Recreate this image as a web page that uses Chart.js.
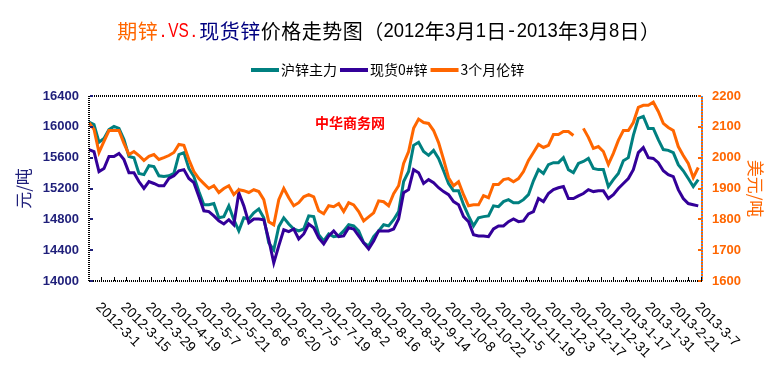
<!DOCTYPE html>
<html>
<head>
<meta charset="utf-8">
<script src="https://cdn.jsdelivr.net/npm/chart.js@4.4.1/dist/chart.umd.min.js"></script>
<style>
  html, body { margin: 0; padding: 0; background: #fff; }
  canvas { display: block; }
</style>
</head>
<body>
<canvas id="zincChart" width="779" height="371"></canvas>
<script>
// ===== 期锌 vs 现货锌 price trend, 2012-3-1 .. 2013-3-8 =====
const dateLabels = ["2012-3-1","2012-3-15","2012-3-29","2012-4-19","2012-5-7","2012-5-21","2012-6-6","2012-6-20",
  "2012-7-5","2012-7-19","2012-8-2","2012-8-16","2012-8-31","2012-9-14","2012-10-8","2012-10-22","2012-11-5",
  "2012-11-19","2012-12-3","2012-12-17","2012-12-31","2013-1-17","2013-1-31","2013-2-21","2013-3-7"];
const DAYS_PER_LABEL = 10;   // a date label every 10 trading days
const DAYS_PER_TICK = 5;
const DAY_STEP = 2;          // one value every 2 trading days
const LAST_DAY = 245.5;

// 沪锌主力 (元/吨)
const shfeMain = [16060,16030,15800,15850,15965,16005,15980,15835,15615,15600,
  15395,15380,15495,15485,15365,15355,15365,15395,15640,15665,
  15460,15355,15160,14990,14990,15005,14820,14835,14975,14795,
  14650,14820,14805,14885,14935,14820,14495,14405,14705,14820,
  14740,14675,14650,14675,14845,14835,14600,14520,14610,14575,
  14585,14650,14730,14715,14650,14495,14455,14575,14650,14730,
  14715,14795,14900,15290,15420,15760,15800,15680,15630,15695,
  15590,15430,15265,15170,15170,14990,14845,14715,14820,14835,
  14845,14975,14965,15030,15055,15015,15015,15055,15120,15300,
  15445,15395,15510,15535,15535,15600,15445,15405,15525,15550,
  15590,15460,15445,15445,15225,15315,15395,15560,15600,15890,
  16110,16135,15980,15980,15835,15705,15695,15665,15510,15430,
  15330,15225,15315];

// 现货0#锌 (元/吨)
const spotZinc = [15705,15680,15420,15460,15615,15615,15655,15575,15405,15405,
  15290,15200,15290,15265,15235,15235,15330,15365,15430,15445,
  15330,15275,15095,14910,14900,14845,14780,14740,14795,14730,
  15145,14975,14755,14805,14805,14795,14535,14235,14455,14665,
  14640,14675,14545,14610,14740,14690,14560,14480,14585,14650,
  14575,14585,14690,14675,14585,14495,14415,14520,14650,14650,
  14650,14675,14805,15145,15185,15445,15405,15265,15315,15275,
  15210,15160,15120,15030,14990,14835,14770,14600,14585,14585,
  14575,14675,14715,14715,14770,14805,14770,14780,14870,14900,
  15070,15030,15135,15185,15210,15225,15070,15070,15105,15135,
  15185,15160,15170,15170,15070,15120,15200,15265,15330,15445,
  15665,15730,15600,15590,15535,15430,15380,15355,15185,15070,
  15005,14990,14975];

// 3个月伦锌 (美元/吨)
const lmeZinc = [2114,2092,2017,2053,2088,2088,2088,2046,2010,2020,
  2007,1991,2004,2010,1994,2000,2007,2017,2043,2040,
  1994,1955,1932,1916,1900,1909,1887,1900,1909,1880,
  1896,1893,1887,1896,1890,1864,1792,1782,1864,1900,
  1870,1844,1854,1873,1880,1873,1828,1818,1844,1841,
  1851,1825,1854,1847,1825,1795,1808,1821,1860,1857,
  1844,1883,1909,1981,2020,2095,2125,2114,2111,2088,
  2049,1994,1935,1909,1922,1880,1844,1847,1847,1877,
  1870,1913,1913,1929,1932,1922,1932,1955,1991,2017,
  2043,2033,2040,2075,2075,2085,2085,2072,null,2095,
  2066,2030,2036,2020,1978,2014,2056,2088,2088,2114,
  2163,2170,2170,2180,2150,2111,2098,2088,2036,2007,
  1981,1935,1968];

const seriesNames = ["沪锌主力","现货0#锌","3个月伦锌"];
const seriesColors = ["#008080","#330099","#FF6600"];
const titleParts = [["期锌","#FF6600"],[".VS.","#FF0000"],["现货锌","#000080"],["价格走势图（2012年3月1日-2013年3月8日）","#000000"]];

const CJK = "'Noto Sans CJK SC', sans-serif";
const LATIN = "'Liberation Sans', Arial, sans-serif";
const toXY = arr => arr.map((v, i) => ({ x: i * DAY_STEP, y: v }));

// title, legend, frame, ticks and rotated date labels
const decorPlugin = {
  id: "decor",
  afterDatasetsDraw(chart) {
    const { ctx, chartArea: a, scales } = chart;
    ctx.save();

    // frame
    ctx.lineWidth = 2;
    ctx.setLineDash([1, 1]);
    ctx.strokeStyle = "#000";
    ctx.beginPath();
    ctx.moveTo(a.left, a.bottom); ctx.lineTo(a.left, a.top); ctx.lineTo(a.right, a.top);
    ctx.moveTo(a.left, a.bottom); ctx.lineTo(a.right, a.bottom);
    ctx.stroke();
    ctx.setLineDash([]);
    ctx.strokeStyle = "#FF6600";
    ctx.beginPath(); ctx.moveTo(a.right, a.top); ctx.lineTo(a.right, a.bottom); ctx.stroke();
    ctx.setLineDash([1, 2]);
    ctx.strokeStyle = "#3399FF";
    ctx.beginPath(); ctx.moveTo(a.right, a.top); ctx.lineTo(a.right, a.bottom); ctx.stroke();
    ctx.setLineDash([]);

    // inner tick marks
    ctx.lineWidth = 1;
    ctx.strokeStyle = "#000";
    ctx.beginPath();
    for (let d = DAYS_PER_TICK; d < LAST_DAY; d += DAYS_PER_TICK) {
      const x = Math.round(scales.x.getPixelForValue(d)) + 0.5;
      ctx.moveTo(x, a.bottom); ctx.lineTo(x, a.bottom - 4);
    }
    ctx.stroke();
    ctx.lineWidth = 2;
    ctx.strokeStyle = "#1F1F7A";
    ctx.beginPath();
    scales.y.ticks.forEach(t => {
      const y = Math.round(scales.y.getPixelForValue(t.value));
      ctx.moveTo(a.left + 1, y); ctx.lineTo(a.left + 4, y);
    });
    ctx.stroke();
    ctx.strokeStyle = "#FF6600";
    ctx.beginPath();
    scales.y1.ticks.forEach(t => {
      const y = Math.round(scales.y1.getPixelForValue(t.value));
      ctx.moveTo(a.right - 4, y); ctx.lineTo(a.right - 1, y);
    });
    ctx.stroke();

    // date labels, rotated down to the right
    ctx.fillStyle = "#000";
    ctx.font = "14px " + LATIN;
    ctx.textAlign = "left";
    ctx.textBaseline = "middle";
    dateLabels.forEach((lab, k) => {
      const x = scales.x.getPixelForValue(k * DAYS_PER_LABEL);
      ctx.save();
      ctx.translate(x + 9, a.bottom + 24);
      ctx.rotate(Math.PI / 4);
      ctx.fillText(lab, 0, 0);
      ctx.restore();
    });

    // watermark
    ctx.fillStyle = "#FF0000";
    ctx.font = "bold 14px " + CJK;
    ctx.fillText("中华商务网", 315, 123);

    // title: full-width glyphs 20.5px, half-width glyphs squeezed into 10.25px
    ctx.textAlign = "center";
    let tx = 117;
    titleParts.forEach(([txt, col]) => {
      ctx.fillStyle = col;
      for (const ch of txt) {
        const half = ch.charCodeAt(0) < 128;
        const w = half ? 10.25 : 20.5;
        ctx.font = half ? "20px " + LATIN : "20px " + CJK;
        const sx = Math.min(1, w / ctx.measureText(ch).width);
        ctx.save();
        ctx.translate(tx + w / 2, 31);
        ctx.scale(half ? sx : 1, 1);
        ctx.fillText(ch, 0, 0);
        ctx.restore();
        tx += w;
      }
    });
    ctx.textAlign = "left";

    // legend
    ctx.font = "14px " + CJK;
    let lx = 251;
    chart.data.datasets.forEach(ds => {
      ctx.fillStyle = ds.borderColor;
      ctx.fillRect(lx, 68, 28, 4);
      ctx.fillStyle = "#000";
      ctx.fillText(ds.label, lx + 30, 70);
      lx += 30 + ctx.measureText(ds.label).width + 3;
    });
    ctx.restore();
  }
};

const lineDefaults = { borderWidth: 3, pointRadius: 0, tension: 0, fill: false, spanGaps: false };

new Chart(document.getElementById("zincChart"), {
  type: "line",
  data: {
    datasets: [
      { ...lineDefaults, label: seriesNames[0], data: toXY(shfeMain), borderColor: seriesColors[0], yAxisID: "y", order: 3 },
      { ...lineDefaults, label: seriesNames[1], data: toXY(spotZinc), borderColor: seriesColors[1], yAxisID: "y", order: 2 },
      { ...lineDefaults, label: seriesNames[2], data: toXY(lmeZinc), borderColor: seriesColors[2], yAxisID: "y1", order: 1 }
    ]
  },
  options: {
    responsive: false,
    animation: false,
    layout: { padding: { top: 96, bottom: 90, left: 0, right: 0 } },
    plugins: { legend: { display: false }, title: { display: false }, tooltip: { enabled: false } },
    scales: {
      x: { type: "linear", min: 0, max: LAST_DAY, display: false },
      y: {
        position: "left", min: 14000, max: 16400,
        ticks: { stepSize: 400, color: "#1F1F7A", padding: 10, callback: v => String(v),
                 font: { family: LATIN, size: 13, weight: "bold" } },
        grid: { display: false, drawTicks: false }, border: { display: false },
        title: { display: true, text: "元/吨", color: "#1F1F7A", font: { family: CJK, size: 17 }, padding: 13 },
        afterFit(s) { s.width = 89; }
      },
      y1: {
        position: "right", min: 1600, max: 2200,
        ticks: { stepSize: 100, color: "#FF6600", padding: 10, callback: v => String(v),
                 font: { family: LATIN, size: 13, weight: "bold" } },
        grid: { display: false, drawTicks: false }, border: { display: false },
        title: { display: true, text: "美元/吨", color: "#FF6600", font: { family: CJK, size: 17 }, padding: 13 },
        afterFit(s) { s.width = 77; }
      }
    }
  },
  plugins: [decorPlugin]
});
</script>
</body>
</html>
